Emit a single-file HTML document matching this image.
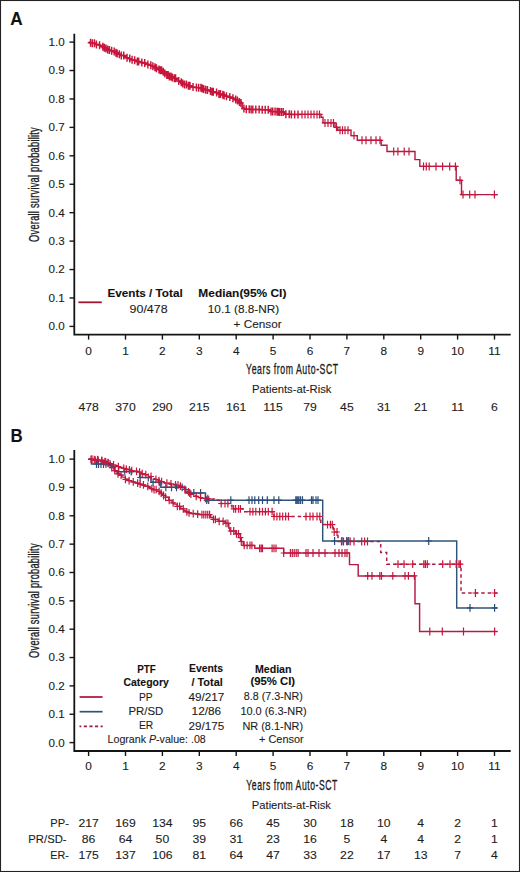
<!DOCTYPE html><html><head><meta charset="utf-8"><style>html,body{margin:0;padding:0;background:#fff;}svg{display:block;}text{font-family:"Liberation Sans", sans-serif;stroke:#1c1c1c;stroke-width:0.1px;}</style></head><body>
<svg width="520" height="872" viewBox="0 0 520 872">
<rect x="0" y="0" width="520" height="872" fill="#fff"/>
<text x="10.37" y="25.00" font-size="17.5" font-weight="bold" fill="#111" textLength="12.40" lengthAdjust="spacingAndGlyphs" >A</text>
<path d="M74.3,34.6 L74.3,334.6 L509.8,334.6" fill="none" stroke="#151515" stroke-width="1.8" stroke-linejoin="miter" stroke-linecap="square"/>
<line x1="69.50" y1="326.40" x2="74.30" y2="326.40" stroke="#151515" stroke-width="1.4" />
<text x="64.80" y="330.30" font-size="11.3" text-anchor="end" font-weight="normal" fill="#1c1c1c" textLength="16.18" lengthAdjust="spacingAndGlyphs" >0.0</text>
<line x1="69.50" y1="297.97" x2="74.30" y2="297.97" stroke="#151515" stroke-width="1.4" />
<text x="64.80" y="301.87" font-size="11.3" text-anchor="end" font-weight="normal" fill="#1c1c1c" textLength="16.18" lengthAdjust="spacingAndGlyphs" >0.1</text>
<line x1="69.50" y1="269.54" x2="74.30" y2="269.54" stroke="#151515" stroke-width="1.4" />
<text x="64.80" y="273.44" font-size="11.3" text-anchor="end" font-weight="normal" fill="#1c1c1c" textLength="16.18" lengthAdjust="spacingAndGlyphs" >0.2</text>
<line x1="69.50" y1="241.11" x2="74.30" y2="241.11" stroke="#151515" stroke-width="1.4" />
<text x="64.80" y="245.01" font-size="11.3" text-anchor="end" font-weight="normal" fill="#1c1c1c" textLength="16.18" lengthAdjust="spacingAndGlyphs" >0.3</text>
<line x1="69.50" y1="212.68" x2="74.30" y2="212.68" stroke="#151515" stroke-width="1.4" />
<text x="64.80" y="216.58" font-size="11.3" text-anchor="end" font-weight="normal" fill="#1c1c1c" textLength="16.18" lengthAdjust="spacingAndGlyphs" >0.4</text>
<line x1="69.50" y1="184.25" x2="74.30" y2="184.25" stroke="#151515" stroke-width="1.4" />
<text x="64.80" y="188.15" font-size="11.3" text-anchor="end" font-weight="normal" fill="#1c1c1c" textLength="16.18" lengthAdjust="spacingAndGlyphs" >0.5</text>
<line x1="69.50" y1="155.82" x2="74.30" y2="155.82" stroke="#151515" stroke-width="1.4" />
<text x="64.80" y="159.72" font-size="11.3" text-anchor="end" font-weight="normal" fill="#1c1c1c" textLength="16.18" lengthAdjust="spacingAndGlyphs" >0.6</text>
<line x1="69.50" y1="127.39" x2="74.30" y2="127.39" stroke="#151515" stroke-width="1.4" />
<text x="64.80" y="131.29" font-size="11.3" text-anchor="end" font-weight="normal" fill="#1c1c1c" textLength="16.18" lengthAdjust="spacingAndGlyphs" >0.7</text>
<line x1="69.50" y1="98.96" x2="74.30" y2="98.96" stroke="#151515" stroke-width="1.4" />
<text x="64.80" y="102.86" font-size="11.3" text-anchor="end" font-weight="normal" fill="#1c1c1c" textLength="16.18" lengthAdjust="spacingAndGlyphs" >0.8</text>
<line x1="69.50" y1="70.53" x2="74.30" y2="70.53" stroke="#151515" stroke-width="1.4" />
<text x="64.80" y="74.43" font-size="11.3" text-anchor="end" font-weight="normal" fill="#1c1c1c" textLength="16.18" lengthAdjust="spacingAndGlyphs" >0.9</text>
<line x1="69.50" y1="42.10" x2="74.30" y2="42.10" stroke="#151515" stroke-width="1.4" />
<text x="64.80" y="46.00" font-size="11.3" text-anchor="end" font-weight="normal" fill="#1c1c1c" textLength="16.18" lengthAdjust="spacingAndGlyphs" >1.0</text>
<line x1="88.60" y1="334.60" x2="88.60" y2="339.60" stroke="#151515" stroke-width="1.4" />
<text x="88.60" y="354.60" font-size="11.3" text-anchor="middle" font-weight="normal" fill="#1c1c1c" textLength="6.60" lengthAdjust="spacingAndGlyphs" >0</text>
<line x1="125.50" y1="334.60" x2="125.50" y2="339.60" stroke="#151515" stroke-width="1.4" />
<text x="125.50" y="354.60" font-size="11.3" text-anchor="middle" font-weight="normal" fill="#1c1c1c" textLength="6.60" lengthAdjust="spacingAndGlyphs" >1</text>
<line x1="162.40" y1="334.60" x2="162.40" y2="339.60" stroke="#151515" stroke-width="1.4" />
<text x="162.40" y="354.60" font-size="11.3" text-anchor="middle" font-weight="normal" fill="#1c1c1c" textLength="6.60" lengthAdjust="spacingAndGlyphs" >2</text>
<line x1="199.30" y1="334.60" x2="199.30" y2="339.60" stroke="#151515" stroke-width="1.4" />
<text x="199.30" y="354.60" font-size="11.3" text-anchor="middle" font-weight="normal" fill="#1c1c1c" textLength="6.60" lengthAdjust="spacingAndGlyphs" >3</text>
<line x1="236.20" y1="334.60" x2="236.20" y2="339.60" stroke="#151515" stroke-width="1.4" />
<text x="236.20" y="354.60" font-size="11.3" text-anchor="middle" font-weight="normal" fill="#1c1c1c" textLength="6.60" lengthAdjust="spacingAndGlyphs" >4</text>
<line x1="273.10" y1="334.60" x2="273.10" y2="339.60" stroke="#151515" stroke-width="1.4" />
<text x="273.10" y="354.60" font-size="11.3" text-anchor="middle" font-weight="normal" fill="#1c1c1c" textLength="6.60" lengthAdjust="spacingAndGlyphs" >5</text>
<line x1="310.00" y1="334.60" x2="310.00" y2="339.60" stroke="#151515" stroke-width="1.4" />
<text x="310.00" y="354.60" font-size="11.3" text-anchor="middle" font-weight="normal" fill="#1c1c1c" textLength="6.60" lengthAdjust="spacingAndGlyphs" >6</text>
<line x1="346.90" y1="334.60" x2="346.90" y2="339.60" stroke="#151515" stroke-width="1.4" />
<text x="346.90" y="354.60" font-size="11.3" text-anchor="middle" font-weight="normal" fill="#1c1c1c" textLength="6.60" lengthAdjust="spacingAndGlyphs" >7</text>
<line x1="383.80" y1="334.60" x2="383.80" y2="339.60" stroke="#151515" stroke-width="1.4" />
<text x="383.80" y="354.60" font-size="11.3" text-anchor="middle" font-weight="normal" fill="#1c1c1c" textLength="6.60" lengthAdjust="spacingAndGlyphs" >8</text>
<line x1="420.70" y1="334.60" x2="420.70" y2="339.60" stroke="#151515" stroke-width="1.4" />
<text x="420.70" y="354.60" font-size="11.3" text-anchor="middle" font-weight="normal" fill="#1c1c1c" textLength="6.60" lengthAdjust="spacingAndGlyphs" >9</text>
<line x1="457.60" y1="334.60" x2="457.60" y2="339.60" stroke="#151515" stroke-width="1.4" />
<text x="457.60" y="354.60" font-size="11.3" text-anchor="middle" font-weight="normal" fill="#1c1c1c" textLength="13.20" lengthAdjust="spacingAndGlyphs" >10</text>
<line x1="494.50" y1="334.60" x2="494.50" y2="339.60" stroke="#151515" stroke-width="1.4" />
<text x="494.50" y="354.60" font-size="11.3" text-anchor="middle" font-weight="normal" fill="#1c1c1c" textLength="12.32" lengthAdjust="spacingAndGlyphs" >11</text>
<text transform="translate(39.40,241.92) rotate(-90) scale(0.6731,1)" font-size="13.8" letter-spacing="0.35" fill="#1c1c1c" style="stroke-width:0.32px">Overall survival probability</text>
<text transform="translate(246.08,374.00) scale(0.6186,1)" font-size="14.1" letter-spacing="0.9" fill="#1c1c1c" style="stroke-width:0.32px">Years from Auto-SCT</text>
<text x="252.00" y="392.70" font-size="11.4" font-weight="normal" fill="#1c1c1c" textLength="79.48" lengthAdjust="spacingAndGlyphs" >Patients-at-Risk</text>
<text x="88.60" y="410.70" font-size="11.3" text-anchor="middle" font-weight="normal" fill="#1c1c1c" textLength="20.36" lengthAdjust="spacingAndGlyphs" >478</text>
<text x="125.50" y="410.70" font-size="11.3" text-anchor="middle" font-weight="normal" fill="#1c1c1c" textLength="20.36" lengthAdjust="spacingAndGlyphs" >370</text>
<text x="162.40" y="410.70" font-size="11.3" text-anchor="middle" font-weight="normal" fill="#1c1c1c" textLength="20.36" lengthAdjust="spacingAndGlyphs" >290</text>
<text x="199.30" y="410.70" font-size="11.3" text-anchor="middle" font-weight="normal" fill="#1c1c1c" textLength="20.36" lengthAdjust="spacingAndGlyphs" >215</text>
<text x="236.20" y="410.70" font-size="11.3" text-anchor="middle" font-weight="normal" fill="#1c1c1c" textLength="20.36" lengthAdjust="spacingAndGlyphs" >161</text>
<text x="273.10" y="410.70" font-size="11.3" text-anchor="middle" font-weight="normal" fill="#1c1c1c" textLength="19.46" lengthAdjust="spacingAndGlyphs" >115</text>
<text x="310.00" y="410.70" font-size="11.3" text-anchor="middle" font-weight="normal" fill="#1c1c1c" textLength="13.58" lengthAdjust="spacingAndGlyphs" >79</text>
<text x="346.90" y="410.70" font-size="11.3" text-anchor="middle" font-weight="normal" fill="#1c1c1c" textLength="13.58" lengthAdjust="spacingAndGlyphs" >45</text>
<text x="383.80" y="410.70" font-size="11.3" text-anchor="middle" font-weight="normal" fill="#1c1c1c" textLength="13.58" lengthAdjust="spacingAndGlyphs" >31</text>
<text x="420.70" y="410.70" font-size="11.3" text-anchor="middle" font-weight="normal" fill="#1c1c1c" textLength="13.58" lengthAdjust="spacingAndGlyphs" >21</text>
<text x="457.60" y="410.70" font-size="11.3" text-anchor="middle" font-weight="normal" fill="#1c1c1c" textLength="12.67" lengthAdjust="spacingAndGlyphs" >11</text>
<text x="494.50" y="410.70" font-size="11.3" text-anchor="middle" font-weight="normal" fill="#1c1c1c" textLength="6.79" lengthAdjust="spacingAndGlyphs" >6</text>
<line x1="78.40" y1="302.30" x2="101.80" y2="302.30" stroke="#a81530" stroke-width="1.8" />
<text x="107.44" y="296.50" font-size="11.8" font-weight="bold" fill="#111" textLength="75.21" lengthAdjust="spacingAndGlyphs" >Events / Total</text>
<text x="198.33" y="296.50" font-size="11.8" font-weight="bold" fill="#111" textLength="88.07" lengthAdjust="spacingAndGlyphs" >Median(95% CI)</text>
<text x="129.64" y="312.90" font-size="11.3" font-weight="normal" fill="#1c1c1c" textLength="37.94" lengthAdjust="spacingAndGlyphs" >90/478</text>
<text x="207.82" y="312.90" font-size="11.3" font-weight="normal" fill="#1c1c1c" textLength="71.32" lengthAdjust="spacingAndGlyphs" >10.1 (8.8-NR)</text>
<text x="233.61" y="327.60" font-size="11.3" font-weight="normal" fill="#1c1c1c" textLength="48.07" lengthAdjust="spacingAndGlyphs" >+ Censor</text>
<path d="M88.60,42.10 H90.49 V42.69 H92.08 V43.19 H94.54 V43.97 H95.99 V44.43 H98.25 V45.14 H100.22 V45.92 H101.64 V46.65 H103.85 V47.78 H105.24 V48.50 H107.32 V49.53 H108.76 V50.10 H110.24 V50.69 H112.31 V51.51 H115.08 V52.64 H116.62 V53.40 H118.34 V54.24 H120.76 V55.44 H123.75 V56.82 H126.08 V57.78 H128.10 V58.62 H131.14 V59.74 H132.54 V60.15 H135.37 V60.98 H137.20 V61.52 H138.78 V61.99 H140.30 V62.45 H142.17 V63.00 H144.92 V63.83 H146.56 V64.42 H148.90 V65.36 H151.35 V66.34 H153.32 V67.14 H155.61 V68.14 H157.04 V68.77 H158.46 V69.39 H160.15 V70.13 H162.66 V71.87 H164.74 V73.57 H166.61 V75.10 H168.96 V76.56 H171.08 V77.49 H172.93 V78.31 H175.64 V79.55 H178.19 V81.09 H179.94 V82.15 H182.27 V83.56 H184.52 V84.58 H187.38 V85.68 H189.98 V86.69 H191.81 V87.10 H194.85 V87.42 H196.38 V87.58 H198.44 V87.79 H201.09 V88.56 H202.68 V89.03 H204.86 V89.67 H206.25 V90.08 H208.74 V90.88 H211.41 V91.73 H213.74 V92.48 H216.60 V93.34 H218.47 V93.90 H221.01 V94.66 H223.38 V95.48 H225.72 V96.32 H227.84 V97.08 H230.64 V98.22 H233.63 V99.52 H235.78 V100.47 H238.27 V101.91 H239.70 V102.93 H242.25 V108.49 H244.71 V109.25 H247.78 V109.32 H250.54 V109.39 H252.36 V109.43 H254.36 V109.48 H256.86 V109.54 H258.22 V109.57 H260.35 V109.62 H261.97 V109.66 H263.49 V109.69 H264.92 V109.73 H267.59 V109.79 H269.14 V110.77 H270.89 V111.54 H272.90 V111.62 H275.76 V111.74 H277.22 V111.80 H279.33 V111.89 H281.61 V111.98 H284.49 V114.21 H287.25 V114.24 H290.00 V114.40 H321.00 V117.20 H323.00 V122.90 H335.00 V127.30 H337.70 V130.30 H351.00 V135.60 H357.30 V140.30 H381.20 V145.20 H387.00 V151.50 H415.00 V159.60 H419.80 V166.40 H456.20 V180.30 H461.50 V194.60 H497.70 V194.60" fill="none" stroke="#b5183f" stroke-width="1.4" />
<path d="M90.50,38.69V46.69M87.70,42.69H93.30M92.31,39.19V47.19M89.51,43.19H95.11M94.43,39.19V47.19M91.63,43.19H97.23M96.42,40.43V48.43M93.62,44.43H99.22M99.56,41.14V49.14M96.76,45.14H102.36M102.87,42.65V50.65M100.07,46.65H105.67M104.40,43.78V51.78M101.60,47.78H107.20M105.99,44.50V52.50M103.19,48.50H108.79M107.70,45.53V53.53M104.90,49.53H110.50M109.41,46.10V54.10M106.61,50.10H112.21M111.68,46.69V54.69M108.88,50.69H114.48M114.17,47.51V55.51M111.37,51.51H116.97M115.95,48.64V56.64M113.15,52.64H118.75M117.16,49.40V57.40M114.36,53.40H119.96M119.28,50.24V58.24M116.48,54.24H122.08M121.30,51.44V59.44M118.50,55.44H124.10M123.74,51.44V59.44M120.94,55.44H126.54M127.04,53.78V61.78M124.24,57.78H129.84M129.76,54.62V62.62M126.96,58.62H132.56M132.09,55.74V63.74M129.29,59.74H134.89M134.65,56.15V64.15M131.85,60.15H137.45M137.34,57.52V65.52M134.54,61.52H140.14M138.66,57.52V65.52M135.86,61.52H141.46M141.84,58.45V66.45M139.04,62.45H144.64M144.75,59.00V67.00M141.95,63.00H147.55M147.88,60.42V68.42M145.08,64.42H150.68M150.83,61.36V69.36M148.03,65.36H153.63M152.89,62.34V70.34M150.09,66.34H155.69M154.97,63.14V71.14M152.17,67.14H157.77M156.40,64.14V72.14M153.60,68.14H159.20M158.99,65.39V73.39M156.19,69.39H161.79M160.33,66.13V74.13M157.53,70.13H163.13M161.68,66.13V74.13M158.88,70.13H164.48M163.34,67.87V75.87M160.54,71.87H166.14M164.90,69.57V77.57M162.10,73.57H167.70M166.84,71.10V79.10M164.04,75.10H169.64M168.16,71.10V79.10M165.36,75.10H170.96M169.36,72.56V80.56M166.56,76.56H172.16M170.89,72.56V80.56M168.09,76.56H173.69M172.32,73.49V81.49M169.52,77.49H175.12M174.32,74.31V82.31M171.52,78.31H177.12M175.57,74.31V82.31M172.77,78.31H178.37M178.70,77.09V85.09M175.90,81.09H181.50M181.25,78.15V86.15M178.45,82.15H184.05M182.77,79.56V87.56M179.97,83.56H185.57M184.53,80.58V88.58M181.73,84.58H187.33M186.49,80.58V88.58M183.69,84.58H189.29M188.49,81.68V89.68M185.69,85.68H191.29M189.96,81.68V89.68M187.16,85.68H192.76M193.03,83.10V91.10M190.23,87.10H195.83M196.42,83.58V91.58M193.62,87.58H199.22M198.64,83.79V91.79M195.84,87.79H201.44M200.91,83.79V91.79M198.11,87.79H203.71M202.30,84.56V92.56M199.50,88.56H205.10M203.72,85.03V93.03M200.92,89.03H206.52M205.67,85.67V93.67M202.87,89.67H208.47M207.46,86.08V94.08M204.66,90.08H210.26M210.48,86.88V94.88M207.68,90.88H213.28M212.04,87.73V95.73M209.24,91.73H214.84M213.29,87.73V95.73M210.49,91.73H216.09M216.58,88.48V96.48M213.78,92.48H219.38M218.94,89.90V97.90M216.14,93.90H221.74M220.46,89.90V97.90M217.66,93.90H223.26M222.86,90.66V98.66M220.06,94.66H225.66M224.12,91.48V99.48M221.32,95.48H226.92M226.48,92.32V100.32M223.68,96.32H229.28M229.83,93.08V101.08M227.03,97.08H232.63M232.93,94.22V102.22M230.13,98.22H235.73M235.66,95.52V103.52M232.86,99.52H238.46M237.44,96.47V104.47M234.64,100.47H240.24M239.44,97.91V105.91M236.64,101.91H242.24M241.01,98.93V106.93M238.21,102.93H243.81M243.91,104.49V112.49M241.11,108.49H246.71M246.28,105.25V113.25M243.48,109.25H249.08M249.20,105.32V113.32M246.40,109.32H252.00M251.12,105.39V113.39M248.32,109.39H253.92M252.81,105.43V113.43M250.01,109.43H255.61M255.80,105.48V113.48M253.00,109.48H258.60M259.16,105.57V113.57M256.36,109.57H261.96M262.24,105.66V113.66M259.44,109.66H265.04M265.21,105.73V113.73M262.41,109.73H268.01M268.21,105.79V113.79M265.41,109.79H271.01M271.04,107.54V115.54M268.24,111.54H273.84M272.74,107.54V115.54M269.94,111.54H275.54M275.08,107.62V115.62M272.28,111.62H277.88M277.06,107.74V115.74M274.26,111.74H279.86M278.32,107.80V115.80M275.52,111.80H281.12M279.59,107.89V115.89M276.79,111.89H282.39M281.40,107.89V115.89M278.60,111.89H284.20M283.17,107.98V115.98M280.37,111.98H285.97M285.89,110.21V118.21M283.09,114.21H288.69M289.20,110.24V118.24M286.40,114.24H292.00M291.38,110.40V118.40M288.58,114.40H294.18M294.64,110.40V118.40M291.84,114.40H297.44M298.02,110.40V118.40M295.22,114.40H300.82" fill="none" stroke="#c6143a" stroke-width="1.45" />
<path d="M302.00,110.40V118.40M298.80,114.40H305.20M305.00,110.40V118.40M301.80,114.40H308.20M308.00,110.40V118.40M304.80,114.40H311.20M311.00,110.40V118.40M307.80,114.40H314.20M314.00,110.40V118.40M310.80,114.40H317.20M317.00,110.40V118.40M313.80,114.40H320.20M319.50,110.40V118.40M316.30,114.40H322.70M325.00,118.90V126.90M321.80,122.90H328.20M328.00,118.90V126.90M324.80,122.90H331.20M331.00,118.90V126.90M327.80,122.90H334.20M333.50,118.90V126.90M330.30,122.90H336.70M336.50,123.30V131.30M333.30,127.30H339.70M340.00,126.30V134.30M336.80,130.30H343.20M342.50,126.30V134.30M339.30,130.30H345.70M345.00,126.30V134.30M341.80,130.30H348.20M348.00,126.30V134.30M344.80,130.30H351.20M354.00,131.60V139.60M350.80,135.60H357.20M362.00,136.30V144.30M358.80,140.30H365.20M366.00,136.30V144.30M362.80,140.30H369.20M371.00,136.30V144.30M367.80,140.30H374.20M376.00,136.30V144.30M372.80,140.30H379.20M380.00,136.30V144.30M376.80,140.30H383.20M393.70,147.50V155.50M390.50,151.50H396.90M397.90,147.50V155.50M394.70,151.50H401.10M404.20,147.50V155.50M401.00,151.50H407.40M409.00,147.50V155.50M405.80,151.50H412.20M423.50,162.40V170.40M420.30,166.40H426.70M426.30,162.40V170.40M423.10,166.40H429.50M429.20,162.40V170.40M426.00,166.40H432.40M436.00,162.40V170.40M432.80,166.40H439.20M442.60,162.40V170.40M439.40,166.40H445.80M449.70,162.40V170.40M446.50,166.40H452.90M455.40,162.40V170.40M452.20,166.40H458.60M460.00,176.30V184.30M456.80,180.30H463.20M463.00,190.60V198.60M459.80,194.60H466.20M469.70,190.60V198.60M466.50,194.60H472.90M475.00,190.60V198.60M471.80,194.60H478.20M494.40,190.60V198.60M491.20,194.60H497.60" fill="none" stroke="#c0183e" stroke-width="1.2" />
<text x="10.50" y="441.50" font-size="17.5" font-weight="bold" fill="#111" textLength="12.19" lengthAdjust="spacingAndGlyphs" >B</text>
<path d="M74.3,451.0 L74.3,751.0 L509.8,751.0" fill="none" stroke="#151515" stroke-width="1.8" stroke-linejoin="miter" stroke-linecap="square"/>
<line x1="69.50" y1="742.60" x2="74.30" y2="742.60" stroke="#151515" stroke-width="1.4" />
<text x="64.80" y="746.50" font-size="11.3" text-anchor="end" font-weight="normal" fill="#1c1c1c" textLength="16.18" lengthAdjust="spacingAndGlyphs" >0.0</text>
<line x1="69.50" y1="714.25" x2="74.30" y2="714.25" stroke="#151515" stroke-width="1.4" />
<text x="64.80" y="718.15" font-size="11.3" text-anchor="end" font-weight="normal" fill="#1c1c1c" textLength="16.18" lengthAdjust="spacingAndGlyphs" >0.1</text>
<line x1="69.50" y1="685.90" x2="74.30" y2="685.90" stroke="#151515" stroke-width="1.4" />
<text x="64.80" y="689.80" font-size="11.3" text-anchor="end" font-weight="normal" fill="#1c1c1c" textLength="16.18" lengthAdjust="spacingAndGlyphs" >0.2</text>
<line x1="69.50" y1="657.55" x2="74.30" y2="657.55" stroke="#151515" stroke-width="1.4" />
<text x="64.80" y="661.45" font-size="11.3" text-anchor="end" font-weight="normal" fill="#1c1c1c" textLength="16.18" lengthAdjust="spacingAndGlyphs" >0.3</text>
<line x1="69.50" y1="629.20" x2="74.30" y2="629.20" stroke="#151515" stroke-width="1.4" />
<text x="64.80" y="633.10" font-size="11.3" text-anchor="end" font-weight="normal" fill="#1c1c1c" textLength="16.18" lengthAdjust="spacingAndGlyphs" >0.4</text>
<line x1="69.50" y1="600.85" x2="74.30" y2="600.85" stroke="#151515" stroke-width="1.4" />
<text x="64.80" y="604.75" font-size="11.3" text-anchor="end" font-weight="normal" fill="#1c1c1c" textLength="16.18" lengthAdjust="spacingAndGlyphs" >0.5</text>
<line x1="69.50" y1="572.50" x2="74.30" y2="572.50" stroke="#151515" stroke-width="1.4" />
<text x="64.80" y="576.40" font-size="11.3" text-anchor="end" font-weight="normal" fill="#1c1c1c" textLength="16.18" lengthAdjust="spacingAndGlyphs" >0.6</text>
<line x1="69.50" y1="544.15" x2="74.30" y2="544.15" stroke="#151515" stroke-width="1.4" />
<text x="64.80" y="548.05" font-size="11.3" text-anchor="end" font-weight="normal" fill="#1c1c1c" textLength="16.18" lengthAdjust="spacingAndGlyphs" >0.7</text>
<line x1="69.50" y1="515.80" x2="74.30" y2="515.80" stroke="#151515" stroke-width="1.4" />
<text x="64.80" y="519.70" font-size="11.3" text-anchor="end" font-weight="normal" fill="#1c1c1c" textLength="16.18" lengthAdjust="spacingAndGlyphs" >0.8</text>
<line x1="69.50" y1="487.45" x2="74.30" y2="487.45" stroke="#151515" stroke-width="1.4" />
<text x="64.80" y="491.35" font-size="11.3" text-anchor="end" font-weight="normal" fill="#1c1c1c" textLength="16.18" lengthAdjust="spacingAndGlyphs" >0.9</text>
<line x1="69.50" y1="459.10" x2="74.30" y2="459.10" stroke="#151515" stroke-width="1.4" />
<text x="64.80" y="463.00" font-size="11.3" text-anchor="end" font-weight="normal" fill="#1c1c1c" textLength="16.18" lengthAdjust="spacingAndGlyphs" >1.0</text>
<line x1="88.60" y1="751.00" x2="88.60" y2="756.00" stroke="#151515" stroke-width="1.4" />
<text x="88.60" y="770.30" font-size="11.3" text-anchor="middle" font-weight="normal" fill="#1c1c1c" textLength="6.60" lengthAdjust="spacingAndGlyphs" >0</text>
<line x1="125.50" y1="751.00" x2="125.50" y2="756.00" stroke="#151515" stroke-width="1.4" />
<text x="125.50" y="770.30" font-size="11.3" text-anchor="middle" font-weight="normal" fill="#1c1c1c" textLength="6.60" lengthAdjust="spacingAndGlyphs" >1</text>
<line x1="162.40" y1="751.00" x2="162.40" y2="756.00" stroke="#151515" stroke-width="1.4" />
<text x="162.40" y="770.30" font-size="11.3" text-anchor="middle" font-weight="normal" fill="#1c1c1c" textLength="6.60" lengthAdjust="spacingAndGlyphs" >2</text>
<line x1="199.30" y1="751.00" x2="199.30" y2="756.00" stroke="#151515" stroke-width="1.4" />
<text x="199.30" y="770.30" font-size="11.3" text-anchor="middle" font-weight="normal" fill="#1c1c1c" textLength="6.60" lengthAdjust="spacingAndGlyphs" >3</text>
<line x1="236.20" y1="751.00" x2="236.20" y2="756.00" stroke="#151515" stroke-width="1.4" />
<text x="236.20" y="770.30" font-size="11.3" text-anchor="middle" font-weight="normal" fill="#1c1c1c" textLength="6.60" lengthAdjust="spacingAndGlyphs" >4</text>
<line x1="273.10" y1="751.00" x2="273.10" y2="756.00" stroke="#151515" stroke-width="1.4" />
<text x="273.10" y="770.30" font-size="11.3" text-anchor="middle" font-weight="normal" fill="#1c1c1c" textLength="6.60" lengthAdjust="spacingAndGlyphs" >5</text>
<line x1="310.00" y1="751.00" x2="310.00" y2="756.00" stroke="#151515" stroke-width="1.4" />
<text x="310.00" y="770.30" font-size="11.3" text-anchor="middle" font-weight="normal" fill="#1c1c1c" textLength="6.60" lengthAdjust="spacingAndGlyphs" >6</text>
<line x1="346.90" y1="751.00" x2="346.90" y2="756.00" stroke="#151515" stroke-width="1.4" />
<text x="346.90" y="770.30" font-size="11.3" text-anchor="middle" font-weight="normal" fill="#1c1c1c" textLength="6.60" lengthAdjust="spacingAndGlyphs" >7</text>
<line x1="383.80" y1="751.00" x2="383.80" y2="756.00" stroke="#151515" stroke-width="1.4" />
<text x="383.80" y="770.30" font-size="11.3" text-anchor="middle" font-weight="normal" fill="#1c1c1c" textLength="6.60" lengthAdjust="spacingAndGlyphs" >8</text>
<line x1="420.70" y1="751.00" x2="420.70" y2="756.00" stroke="#151515" stroke-width="1.4" />
<text x="420.70" y="770.30" font-size="11.3" text-anchor="middle" font-weight="normal" fill="#1c1c1c" textLength="6.60" lengthAdjust="spacingAndGlyphs" >9</text>
<line x1="457.60" y1="751.00" x2="457.60" y2="756.00" stroke="#151515" stroke-width="1.4" />
<text x="457.60" y="770.30" font-size="11.3" text-anchor="middle" font-weight="normal" fill="#1c1c1c" textLength="13.20" lengthAdjust="spacingAndGlyphs" >10</text>
<line x1="494.50" y1="751.00" x2="494.50" y2="756.00" stroke="#151515" stroke-width="1.4" />
<text x="494.50" y="770.30" font-size="11.3" text-anchor="middle" font-weight="normal" fill="#1c1c1c" textLength="12.32" lengthAdjust="spacingAndGlyphs" >11</text>
<text transform="translate(39.40,657.92) rotate(-90) scale(0.6714,1)" font-size="13.8" letter-spacing="0.35" fill="#1c1c1c" style="stroke-width:0.32px">Overall survival probability</text>
<text transform="translate(246.28,790.20) scale(0.6118,1)" font-size="14.1" letter-spacing="0.9" fill="#1c1c1c" style="stroke-width:0.32px">Years from Auto-SCT</text>
<text x="251.80" y="808.50" font-size="11.4" font-weight="normal" fill="#1c1c1c" textLength="79.17" lengthAdjust="spacingAndGlyphs" >Patients-at-Risk</text>
<text x="50.31" y="827.20" font-size="11.5" font-weight="normal" fill="#1c1c1c" textLength="18.56" lengthAdjust="spacingAndGlyphs" >PP-</text>
<text x="88.60" y="827.20" font-size="11.3" text-anchor="middle" font-weight="normal" fill="#1c1c1c" textLength="20.36" lengthAdjust="spacingAndGlyphs" >217</text>
<text x="125.50" y="827.20" font-size="11.3" text-anchor="middle" font-weight="normal" fill="#1c1c1c" textLength="20.36" lengthAdjust="spacingAndGlyphs" >169</text>
<text x="162.40" y="827.20" font-size="11.3" text-anchor="middle" font-weight="normal" fill="#1c1c1c" textLength="20.36" lengthAdjust="spacingAndGlyphs" >134</text>
<text x="199.30" y="827.20" font-size="11.3" text-anchor="middle" font-weight="normal" fill="#1c1c1c" textLength="13.58" lengthAdjust="spacingAndGlyphs" >95</text>
<text x="236.20" y="827.20" font-size="11.3" text-anchor="middle" font-weight="normal" fill="#1c1c1c" textLength="13.58" lengthAdjust="spacingAndGlyphs" >66</text>
<text x="273.10" y="827.20" font-size="11.3" text-anchor="middle" font-weight="normal" fill="#1c1c1c" textLength="13.58" lengthAdjust="spacingAndGlyphs" >45</text>
<text x="310.00" y="827.20" font-size="11.3" text-anchor="middle" font-weight="normal" fill="#1c1c1c" textLength="13.58" lengthAdjust="spacingAndGlyphs" >30</text>
<text x="346.90" y="827.20" font-size="11.3" text-anchor="middle" font-weight="normal" fill="#1c1c1c" textLength="13.58" lengthAdjust="spacingAndGlyphs" >18</text>
<text x="383.80" y="827.20" font-size="11.3" text-anchor="middle" font-weight="normal" fill="#1c1c1c" textLength="13.58" lengthAdjust="spacingAndGlyphs" >10</text>
<text x="420.70" y="827.20" font-size="11.3" text-anchor="middle" font-weight="normal" fill="#1c1c1c" textLength="6.79" lengthAdjust="spacingAndGlyphs" >4</text>
<text x="457.60" y="827.20" font-size="11.3" text-anchor="middle" font-weight="normal" fill="#1c1c1c" textLength="6.79" lengthAdjust="spacingAndGlyphs" >2</text>
<text x="494.50" y="827.20" font-size="11.3" text-anchor="middle" font-weight="normal" fill="#1c1c1c" textLength="6.79" lengthAdjust="spacingAndGlyphs" >1</text>
<text x="28.30" y="843.10" font-size="11.5" font-weight="normal" fill="#1c1c1c" textLength="38.30" lengthAdjust="spacingAndGlyphs" >PR/SD-</text>
<text x="88.60" y="843.10" font-size="11.3" text-anchor="middle" font-weight="normal" fill="#1c1c1c" textLength="13.58" lengthAdjust="spacingAndGlyphs" >86</text>
<text x="125.50" y="843.10" font-size="11.3" text-anchor="middle" font-weight="normal" fill="#1c1c1c" textLength="13.58" lengthAdjust="spacingAndGlyphs" >64</text>
<text x="162.40" y="843.10" font-size="11.3" text-anchor="middle" font-weight="normal" fill="#1c1c1c" textLength="13.58" lengthAdjust="spacingAndGlyphs" >50</text>
<text x="199.30" y="843.10" font-size="11.3" text-anchor="middle" font-weight="normal" fill="#1c1c1c" textLength="13.58" lengthAdjust="spacingAndGlyphs" >39</text>
<text x="236.20" y="843.10" font-size="11.3" text-anchor="middle" font-weight="normal" fill="#1c1c1c" textLength="13.58" lengthAdjust="spacingAndGlyphs" >31</text>
<text x="273.10" y="843.10" font-size="11.3" text-anchor="middle" font-weight="normal" fill="#1c1c1c" textLength="13.58" lengthAdjust="spacingAndGlyphs" >23</text>
<text x="310.00" y="843.10" font-size="11.3" text-anchor="middle" font-weight="normal" fill="#1c1c1c" textLength="13.58" lengthAdjust="spacingAndGlyphs" >16</text>
<text x="346.90" y="843.10" font-size="11.3" text-anchor="middle" font-weight="normal" fill="#1c1c1c" textLength="6.79" lengthAdjust="spacingAndGlyphs" >5</text>
<text x="383.80" y="843.10" font-size="11.3" text-anchor="middle" font-weight="normal" fill="#1c1c1c" textLength="6.79" lengthAdjust="spacingAndGlyphs" >4</text>
<text x="420.70" y="843.10" font-size="11.3" text-anchor="middle" font-weight="normal" fill="#1c1c1c" textLength="6.79" lengthAdjust="spacingAndGlyphs" >4</text>
<text x="457.60" y="843.10" font-size="11.3" text-anchor="middle" font-weight="normal" fill="#1c1c1c" textLength="6.79" lengthAdjust="spacingAndGlyphs" >2</text>
<text x="494.50" y="843.10" font-size="11.3" text-anchor="middle" font-weight="normal" fill="#1c1c1c" textLength="6.79" lengthAdjust="spacingAndGlyphs" >1</text>
<text x="50.34" y="858.80" font-size="11.5" font-weight="normal" fill="#1c1c1c" textLength="18.51" lengthAdjust="spacingAndGlyphs" >ER-</text>
<text x="88.60" y="858.80" font-size="11.3" text-anchor="middle" font-weight="normal" fill="#1c1c1c" textLength="20.36" lengthAdjust="spacingAndGlyphs" >175</text>
<text x="125.50" y="858.80" font-size="11.3" text-anchor="middle" font-weight="normal" fill="#1c1c1c" textLength="20.36" lengthAdjust="spacingAndGlyphs" >137</text>
<text x="162.40" y="858.80" font-size="11.3" text-anchor="middle" font-weight="normal" fill="#1c1c1c" textLength="20.36" lengthAdjust="spacingAndGlyphs" >106</text>
<text x="199.30" y="858.80" font-size="11.3" text-anchor="middle" font-weight="normal" fill="#1c1c1c" textLength="13.58" lengthAdjust="spacingAndGlyphs" >81</text>
<text x="236.20" y="858.80" font-size="11.3" text-anchor="middle" font-weight="normal" fill="#1c1c1c" textLength="13.58" lengthAdjust="spacingAndGlyphs" >64</text>
<text x="273.10" y="858.80" font-size="11.3" text-anchor="middle" font-weight="normal" fill="#1c1c1c" textLength="13.58" lengthAdjust="spacingAndGlyphs" >47</text>
<text x="310.00" y="858.80" font-size="11.3" text-anchor="middle" font-weight="normal" fill="#1c1c1c" textLength="13.58" lengthAdjust="spacingAndGlyphs" >33</text>
<text x="346.90" y="858.80" font-size="11.3" text-anchor="middle" font-weight="normal" fill="#1c1c1c" textLength="13.58" lengthAdjust="spacingAndGlyphs" >22</text>
<text x="383.80" y="858.80" font-size="11.3" text-anchor="middle" font-weight="normal" fill="#1c1c1c" textLength="13.58" lengthAdjust="spacingAndGlyphs" >17</text>
<text x="420.70" y="858.80" font-size="11.3" text-anchor="middle" font-weight="normal" fill="#1c1c1c" textLength="13.58" lengthAdjust="spacingAndGlyphs" >13</text>
<text x="457.60" y="858.80" font-size="11.3" text-anchor="middle" font-weight="normal" fill="#1c1c1c" textLength="6.79" lengthAdjust="spacingAndGlyphs" >7</text>
<text x="494.50" y="858.80" font-size="11.3" text-anchor="middle" font-weight="normal" fill="#1c1c1c" textLength="6.79" lengthAdjust="spacingAndGlyphs" >4</text>
<line x1="79.60" y1="697.00" x2="102.60" y2="697.00" stroke="#b41c44" stroke-width="1.8" />
<line x1="79.60" y1="711.70" x2="102.60" y2="711.70" stroke="#2e5479" stroke-width="1.7" />
<line x1="79.50" y1="726.40" x2="102.70" y2="726.40" stroke="#9a1c3a" stroke-width="1.6" stroke-dasharray="3.1,2.5" stroke-dashoffset="1.3"/>
<text x="137.16" y="672.70" font-size="10.9" font-weight="bold" fill="#111" textLength="18.57" lengthAdjust="spacingAndGlyphs" >PTF</text>
<text x="123.48" y="685.60" font-size="10.9" font-weight="bold" fill="#111" textLength="45.37" lengthAdjust="spacingAndGlyphs" >Category</text>
<text x="189.03" y="672.00" font-size="10.9" font-weight="bold" fill="#111" textLength="33.98" lengthAdjust="spacingAndGlyphs" >Events</text>
<text x="191.49" y="685.60" font-size="10.9" font-weight="bold" fill="#111" textLength="31.23" lengthAdjust="spacingAndGlyphs" >/ Total</text>
<text x="254.91" y="672.70" font-size="10.9" font-weight="bold" fill="#111" textLength="36.63" lengthAdjust="spacingAndGlyphs" >Median</text>
<text x="250.43" y="685.40" font-size="10.9" font-weight="bold" fill="#111" textLength="44.64" lengthAdjust="spacingAndGlyphs" >(95% CI)</text>
<text x="138.98" y="700.50" font-size="11.3" font-weight="normal" fill="#1c1c1c" textLength="13.67" lengthAdjust="spacingAndGlyphs" >PP</text>
<text x="128.49" y="714.90" font-size="11.3" font-weight="normal" fill="#1c1c1c" textLength="34.73" lengthAdjust="spacingAndGlyphs" >PR/SD</text>
<text x="138.98" y="729.30" font-size="11.3" font-weight="normal" fill="#1c1c1c" textLength="14.22" lengthAdjust="spacingAndGlyphs" >ER</text>
<text x="188.41" y="700.50" font-size="11.3" font-weight="normal" fill="#1c1c1c" textLength="35.86" lengthAdjust="spacingAndGlyphs" >49/217</text>
<text x="191.61" y="715.10" font-size="11.3" font-weight="normal" fill="#1c1c1c" textLength="29.55" lengthAdjust="spacingAndGlyphs" >12/86</text>
<text x="188.52" y="729.50" font-size="11.3" font-weight="normal" fill="#1c1c1c" textLength="35.63" lengthAdjust="spacingAndGlyphs" >29/175</text>
<text x="243.82" y="700.40" font-size="11.3" font-weight="normal" fill="#1c1c1c" textLength="58.94" lengthAdjust="spacingAndGlyphs" >8.8 (7.3-NR)</text>
<text x="240.38" y="715.20" font-size="11.3" font-weight="normal" fill="#1c1c1c" textLength="66.31" lengthAdjust="spacingAndGlyphs" >10.0 (6.3-NR)</text>
<text x="242.43" y="730.00" font-size="11.3" font-weight="normal" fill="#1c1c1c" textLength="60.64" lengthAdjust="spacingAndGlyphs" >NR (8.1-NR)</text>
<text x="259.05" y="742.50" font-size="11.3" font-weight="normal" fill="#1c1c1c" textLength="44.62" lengthAdjust="spacingAndGlyphs" >+ Censor</text>
<text x="107.55" y="742.60" font-size="11.3" font-weight="normal" fill="#1c1c1c" textLength="98.21" lengthAdjust="spacingAndGlyphs" >Logrank <tspan font-style="italic">P</tspan>-value: .08</text>
<path d="M88.60,459.10 H91.50 V464.00 H112.80 V466.60 H115.00 V471.60 H139.60 V477.50 H151.00 V482.30 H160.80 V487.30 H185.80 V493.00 H205.50 V500.20 H322.70 V541.00 H456.70 V607.90 H497.50 V607.90" fill="none" stroke="#2e5479" stroke-width="1.45" />
<path d="M88.60,459.10 H90.92 V459.45 H92.94 V459.75 H94.97 V460.05 H96.94 V460.34 H98.92 V460.79 H101.78 V461.68 H105.21 V462.75 H108.52 V465.21 H111.08 V467.61 H114.00 V470.61 H117.22 V473.80 H118.96 V475.04 H121.89 V477.14 H125.34 V479.34 H128.53 V480.61 H131.65 V481.86 H134.21 V482.63 H136.14 V483.19 H139.34 V484.11 H141.59 V484.96 H144.82 V486.29 H148.40 V487.76 H150.78 V488.72 H153.17 V489.68 H156.70 V491.37 H159.77 V493.14 H161.69 V494.24 H163.51 V495.48 H165.38 V497.23 H168.83 V500.45 H172.06 V502.80 H173.93 V504.10 H177.21 V506.39 H180.81 V508.81 H183.73 V510.73 H186.02 V511.83 H188.72 V512.83 H190.56 V513.37 H192.14 V513.58 H195.72 V514.04 H198.64 V514.42 H200.00 V514.60 H210.60 V517.50 H213.50 V519.40 H218.30 V521.30 H225.00 V523.30 H228.80 V528.00 H229.80 V531.00 H235.60 V533.80 H240.40 V537.70 H241.30 V541.50 H243.30 V545.40 H254.80 V548.30 H283.70 V553.00 H349.50 V564.60 H358.20 V575.90 H415.00 V603.70 H419.60 V631.50 H497.50 V631.50" fill="none" stroke="#b41c44" stroke-width="1.45" />
<path d="M88.60,459.10 H90.00 V459.21 H94.04 V459.53 H96.88 V459.75 H100.77 V460.32 H104.56 V461.90 H106.86 V462.86 H109.27 V463.86 H111.77 V464.90 H114.15 V465.69 H117.36 V466.71 H119.78 V467.49 H122.58 V468.39 H124.70 V469.05 H128.68 V470.02 H131.33 V470.67 H134.23 V471.37 H137.43 V472.23 H141.40 V473.68 H144.21 V474.71 H148.21 V476.50 H151.22 V477.90 H154.29 V479.34 H157.35 V480.76 H159.19 V481.62 H162.05 V482.41 H164.29 V482.86 H166.10 V483.22 H169.82 V483.96 H172.03 V484.41 H174.97 V484.99 H178.51 V486.17 H181.64 V487.50 H184.23 V489.51 H187.27 V491.88 H190.40 V494.16 H194.09 V495.63 H196.14 V496.46 H199.29 V497.71 H201.68 V498.14 H204.15 V498.36 H207.80 V498.67 H210.82 V498.93 H213.97 V499.20 H214.40 V500.00 H219.00 V503.50 H229.00 V505.50 H232.00 V508.80 H243.00 V511.70 H274.00 V516.50 H320.80 V524.60 H333.30 V532.00 H338.00 V541.50 H380.70 V552.50 H386.70 V564.20 H461.00 V593.00 H497.50 V593.00" fill="none" stroke="#b01c40" stroke-width="1.5" stroke-dasharray="3.5,3.0"/>
<path d="M96.50,460.10V467.90M93.50,464.00H99.50M98.50,460.10V467.90M95.50,464.00H101.50M101.00,460.10V467.90M98.00,464.00H104.00M103.50,460.10V467.90M100.50,464.00H106.50M106.00,460.10V467.90M103.00,464.00H109.00M110.00,460.10V467.90M107.00,464.00H113.00M118.76,467.70V475.50M115.76,471.60H121.76M124.75,467.70V475.50M121.75,471.60H127.75M131.19,467.70V475.50M128.19,471.60H134.19M140.14,473.60V481.40M137.14,477.50H143.14M148.30,473.60V481.40M145.30,477.50H151.30M153.11,478.40V486.20M150.11,482.30H156.11M159.27,478.40V486.20M156.27,482.30H162.27M165.84,483.40V491.20M162.84,487.30H168.84M171.54,483.40V491.20M168.54,487.30H174.54M176.52,483.40V491.20M173.52,487.30H179.52M182.11,483.40V491.20M179.11,487.30H185.11M189.72,489.10V496.90M186.72,493.00H192.72M193.82,489.10V496.90M190.82,493.00H196.82M200.59,489.10V496.90M197.59,493.00H203.59M206.70,496.30V504.10M203.70,500.20H209.70M208.70,496.30V504.10M205.70,500.20H211.70M230.80,496.30V504.10M227.80,500.20H233.80M249.00,496.30V504.10M246.00,500.20H252.00M252.00,496.30V504.10M249.00,500.20H255.00M254.80,496.30V504.10M251.80,500.20H257.80M258.70,496.30V504.10M255.70,500.20H261.70M262.50,496.30V504.10M259.50,500.20H265.50M267.30,496.30V504.10M264.30,500.20H270.30M274.00,496.30V504.10M271.00,500.20H277.00M278.80,496.30V504.10M275.80,500.20H281.80M296.00,496.30V504.10M293.00,500.20H299.00M299.00,496.30V504.10M296.00,500.20H302.00M295.80,496.30V504.10M292.80,500.20H298.80M297.30,496.30V504.10M294.30,500.20H300.30M298.70,496.30V504.10M295.70,500.20H301.70M300.60,496.30V504.10M297.60,500.20H303.60M302.50,496.30V504.10M299.50,500.20H305.50M311.50,496.30V504.10M308.50,500.20H314.50M313.00,496.30V504.10M310.00,500.20H316.00M316.00,496.30V504.10M313.00,500.20H319.00M318.00,496.30V504.10M315.00,500.20H321.00M334.60,537.10V544.90M331.60,541.00H337.60M342.00,537.10V544.90M339.00,541.00H345.00M346.70,537.10V544.90M343.70,541.00H349.70M348.70,537.10V544.90M345.70,541.00H351.70M428.70,537.10V544.90M425.70,541.00H431.70M470.00,604.00V611.80M467.00,607.90H473.00M494.60,604.00V611.80M491.60,607.90H497.60" fill="none" stroke="#2a4d78" stroke-width="1.2" />
<path d="M91.00,455.55V463.35M88.00,459.45H94.00M95.26,456.15V463.95M92.26,460.05H98.26M98.26,456.44V464.24M95.26,460.34H101.26M101.71,456.89V464.69M98.71,460.79H104.71M104.88,457.78V465.58M101.88,461.68H107.88M108.06,458.85V466.65M105.06,462.75H111.06M111.73,463.71V471.51M108.73,467.61H114.73M114.75,466.71V474.51M111.75,470.61H117.75M117.99,469.90V477.70M114.99,473.80H120.99M121.08,471.14V478.94M118.08,475.04H124.08M125.43,475.44V483.24M122.43,479.34H128.43M129.11,476.71V484.51M126.11,480.61H132.11M133.28,477.96V485.76M130.28,481.86H136.28M137.62,479.29V487.09M134.62,483.19H140.62M140.13,480.21V488.01M137.13,484.11H143.13M143.44,481.06V488.86M140.44,484.96H146.44M147.78,482.39V490.19M144.78,486.29H150.78M151.85,484.82V492.62M148.85,488.72H154.85M154.02,485.78V493.58M151.02,489.68H157.02M156.15,485.78V493.58M153.15,489.68H159.15M159.14,487.47V495.27M156.14,491.37H162.14M161.14,489.24V497.04M158.14,493.14H164.14M163.59,491.58V499.38M160.59,495.48H166.59M165.59,493.33V501.13M162.59,497.23H168.59M169.19,496.55V504.35M166.19,500.45H172.19M173.11,498.90V506.70M170.11,502.80H176.11M177.33,502.49V510.29M174.33,506.39H180.33M179.55,502.49V510.29M176.55,506.39H182.55M183.28,504.91V512.71M180.28,508.81H186.28M186.87,507.93V515.73M183.87,511.83H189.87M189.05,508.93V516.73M186.05,512.83H192.05M193.24,509.68V517.48M190.24,513.58H196.24M197.65,510.14V517.94M194.65,514.04H200.65M201.90,510.70V518.50M198.90,514.60H204.90M203.80,510.70V518.50M200.80,514.60H206.80M205.80,510.70V518.50M202.80,514.60H208.80M207.70,510.70V518.50M204.70,514.60H210.70M209.60,510.70V518.50M206.60,514.60H212.60M213.50,515.50V523.30M210.50,519.40H216.50M215.40,515.50V523.30M212.40,519.40H218.40M219.20,517.40V525.20M216.20,521.30H222.20M223.10,517.40V525.20M220.10,521.30H226.10M226.00,519.40V527.20M223.00,523.30H229.00M227.90,519.40V527.20M224.90,523.30H230.90M230.80,527.10V534.90M227.80,531.00H233.80M233.70,527.10V534.90M230.70,531.00H236.70M236.50,529.90V537.70M233.50,533.80H239.50M238.50,529.90V537.70M235.50,533.80H241.50M240.40,533.80V541.60M237.40,537.70H243.40M241.30,537.60V545.40M238.30,541.50H244.30M244.20,541.50V549.30M241.20,545.40H247.20M247.10,541.50V549.30M244.10,545.40H250.10M250.00,541.50V549.30M247.00,545.40H253.00M251.90,541.50V549.30M248.90,545.40H254.90M259.60,544.40V552.20M256.60,548.30H262.60M261.20,544.40V552.20M258.20,548.30H264.20M262.50,544.40V552.20M259.50,548.30H265.50M272.10,544.40V552.20M269.10,548.30H275.10M274.00,544.40V552.20M271.00,548.30H277.00M276.00,544.40V552.20M273.00,548.30H279.00M283.70,549.10V556.90M280.70,553.00H286.70M290.40,549.10V556.90M287.40,553.00H293.40M292.30,549.10V556.90M289.30,553.00H295.30M294.20,549.10V556.90M291.20,553.00H297.20M296.20,549.10V556.90M293.20,553.00H299.20M298.10,549.10V556.90M295.10,553.00H301.10M306.00,549.10V556.90M303.00,553.00H309.00M308.00,549.10V556.90M305.00,553.00H311.00M313.00,549.10V556.90M310.00,553.00H316.00M319.00,549.10V556.90M316.00,553.00H322.00M325.00,549.10V556.90M322.00,553.00H328.00M335.00,549.10V556.90M332.00,553.00H338.00M339.00,549.10V556.90M336.00,553.00H342.00M342.00,549.10V556.90M339.00,553.00H345.00M345.00,549.10V556.90M342.00,553.00H348.00M347.00,549.10V556.90M344.00,553.00H350.00M367.70,572.00V579.80M364.70,575.90H370.70M372.00,572.00V579.80M369.00,575.90H375.00M379.80,572.00V579.80M376.80,575.90H382.80M381.50,572.00V579.80M378.50,575.90H384.50M392.80,572.00V579.80M389.80,575.90H395.80M405.00,572.00V579.80M402.00,575.90H408.00M408.40,572.00V579.80M405.40,575.90H411.40M414.40,572.00V579.80M411.40,575.90H417.40M429.80,627.60V635.40M426.80,631.50H432.80M442.30,627.60V635.40M439.30,631.50H445.30M463.50,627.60V635.40M460.50,631.50H466.50M494.60,627.60V635.40M491.60,631.50H497.60" fill="none" stroke="#c01840" stroke-width="1.2" />
<path d="M92.00,455.31V463.11M89.00,459.21H95.00M94.26,455.63V463.43M91.26,459.53H97.26M97.55,455.85V463.65M94.55,459.75H100.55M101.81,456.42V464.22M98.81,460.32H104.81M105.70,458.00V465.80M102.70,461.90H108.70M108.12,458.96V466.76M105.12,462.86H111.12M113.57,461.00V468.80M110.57,464.90H116.57M118.37,462.81V470.61M115.37,466.71H121.37M123.77,464.49V472.29M120.77,468.39H126.77M126.32,465.15V472.95M123.32,469.05H129.32M129.40,466.12V473.92M126.40,470.02H132.40M131.73,466.77V474.57M128.73,470.67H134.73M136.50,467.47V475.27M133.50,471.37H139.50M139.59,468.33V476.13M136.59,472.23H142.59M142.22,469.78V477.58M139.22,473.68H145.22M145.81,470.81V478.61M142.81,474.71H148.81M151.02,472.60V480.40M148.02,476.50H154.02M155.92,475.44V483.24M152.92,479.34H158.92M158.97,476.86V484.66M155.97,480.76H161.97M161.67,477.72V485.52M158.67,481.62H164.67M166.90,479.32V487.12M163.90,483.22H169.90M170.98,480.06V487.86M167.98,483.96H173.98M175.50,481.09V488.89M172.50,484.99H178.50M177.99,481.09V488.89M174.99,484.99H180.99M180.38,482.27V490.07M177.38,486.17H183.38M184.85,485.61V493.41M181.85,489.51H187.85M188.45,487.98V495.78M185.45,491.88H191.45M190.89,490.26V498.06M187.89,494.16H193.89M196.19,492.56V500.36M193.19,496.46H199.19M200.48,493.81V501.61M197.48,497.71H203.48M205.33,494.46V502.26M202.33,498.36H208.33M207.81,494.77V502.57M204.81,498.67H210.81M221.20,499.60V507.40M218.20,503.50H224.20M225.00,499.60V507.40M222.00,503.50H228.00M227.90,499.60V507.40M224.90,503.50H230.90M233.70,504.90V512.70M230.70,508.80H236.70M235.60,504.90V512.70M232.60,508.80H238.60M238.50,504.90V512.70M235.50,508.80H241.50M240.40,504.90V512.70M237.40,508.80H243.40M250.00,507.80V515.60M247.00,511.70H253.00M252.90,507.80V515.60M249.90,511.70H255.90M255.80,507.80V515.60M252.80,511.70H258.80M259.60,507.80V515.60M256.60,511.70H262.60M262.50,507.80V515.60M259.50,511.70H265.50M265.40,507.80V515.60M262.40,511.70H268.40M268.30,507.80V515.60M265.30,511.70H271.30M272.10,507.80V515.60M269.10,511.70H275.10M274.00,512.60V520.40M271.00,516.50H277.00M276.90,512.60V520.40M273.90,516.50H279.90M279.80,512.60V520.40M276.80,516.50H282.80M282.70,512.60V520.40M279.70,516.50H285.70M285.60,512.60V520.40M282.60,516.50H288.60M288.50,512.60V520.40M285.50,516.50H291.50M306.00,512.60V520.40M303.00,516.50H309.00M310.00,512.60V520.40M307.00,516.50H313.00M313.00,512.60V520.40M310.00,516.50H316.00M317.00,512.60V520.40M314.00,516.50H320.00M319.80,512.60V520.40M316.80,516.50H322.80M327.50,520.70V528.50M324.50,524.60H330.50M330.40,520.70V528.50M327.40,524.60H333.40M332.30,520.70V528.50M329.30,524.60H335.30M334.20,528.10V535.90M331.20,532.00H337.20M337.00,528.10V535.90M334.00,532.00H340.00M341.50,537.60V545.40M338.50,541.50H344.50M343.50,537.60V545.40M340.50,541.50H346.50M347.30,537.60V545.40M344.30,541.50H350.30M350.20,537.60V545.40M347.20,541.50H353.20M354.00,537.60V545.40M351.00,541.50H357.00M361.70,537.60V545.40M358.70,541.50H364.70M364.60,537.60V545.40M361.60,541.50H367.60M367.50,537.60V545.40M364.50,541.50H370.50M398.00,560.30V568.10M395.00,564.20H401.00M404.00,560.30V568.10M401.00,564.20H407.00M412.70,560.30V568.10M409.70,564.20H415.70M423.80,560.30V568.10M420.80,564.20H426.80M425.40,560.30V568.10M422.40,564.20H428.40M427.30,560.30V568.10M424.30,564.20H430.30M442.70,560.30V568.10M439.70,564.20H445.70M450.00,560.30V568.10M447.00,564.20H453.00M456.20,560.30V568.10M453.20,564.20H459.20M459.00,560.30V568.10M456.00,564.20H462.00M460.40,560.30V568.10M457.40,564.20H463.40M475.40,589.10V596.90M472.40,593.00H478.40M494.60,589.10V596.90M491.60,593.00H497.60" fill="none" stroke="#c8163c" stroke-width="1.2" />
<rect x="0.5" y="0.5" width="519" height="871" fill="none" stroke="#222" stroke-width="1.1"/>
</svg></body></html>
